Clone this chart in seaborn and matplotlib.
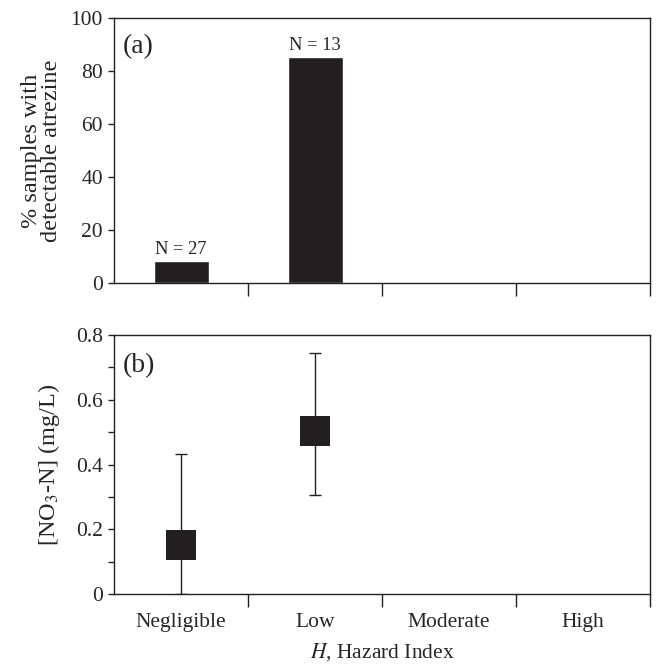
import matplotlib
matplotlib.use("Agg")
import matplotlib.pyplot as plt
import seaborn as sns
import numpy as np
import pandas as pd

# data
categories = ["Negligible", "Low", "Moderate", "High"]
pct_detect = [8.3, 85.2, np.nan, np.nan]
n_labels = ["N = 27", "N = 13", "", ""]
no3_mean = [0.152, 0.503, np.nan, np.nan]
no3_low = [0.0, 0.305, np.nan, np.nan]
no3_high = [0.432, 0.745, np.nan, np.nan]

sns.set_style("ticks")
plt.rcParams["font.family"] = ["Liberation Serif", "DejaVu Serif"]
plt.rcParams["mathtext.fontset"] = "stix"
plt.rcParams["axes.linewidth"] = 1.0
plt.rcParams["axes.edgecolor"] = "#231f20"

dark = "#231f20"
fs_tick = 15.5
fs_ylab = 17.5

fig = plt.figure(figsize=(6.56, 6.65), dpi=100)
ax1 = fig.add_axes([0.174, 0.574, 0.817, 0.399])
ax2 = fig.add_axes([0.174, 0.107, 0.817, 0.389])

df = pd.DataFrame({"cat": categories, "pct": pct_detect})
sns.barplot(data=df, x="cat", y="pct", order=categories, color=dark,
            saturation=1, width=0.41, ax=ax1)
for i, lab in enumerate(n_labels):
    if lab:
        ax1.text(i, pct_detect[i] + 1.2, lab, ha="center", va="bottom", fontsize=13.3)
ax1.set_ylim(0, 100)
ax1.set_yticks(range(0, 101, 20))
ax1.set_ylabel("% samples with\ndetectable atrezine", fontsize=fs_ylab,
               linespacing=0.95, labelpad=6)
ax1.set_xlabel("")
ax1.text(0.016, 0.94, "(a)", transform=ax1.transAxes, fontsize=20, va="top")

x = np.arange(len(categories))
mean = np.array(no3_mean)
yerr = np.vstack([mean - np.array(no3_low), np.array(no3_high) - mean])
ax2.errorbar(x, mean, yerr=yerr, fmt="none", ecolor=dark, elinewidth=1.0,
             capsize=4, capthick=1.0, zorder=2)
sns.scatterplot(x=x, y=mean, marker="s", s=440, color=dark, edgecolor=dark,
                linewidth=0, ax=ax2, zorder=3)
ax2.set_ylim(0, 0.8)
ax2.set_yticks([0, 0.2, 0.4, 0.6, 0.8])
ax2.set_yticklabels(["0", "0.2", "0.4", "0.6", "0.8"])
ax2.set_yticks([0.1, 0.3, 0.5, 0.7], minor=True)
ax2.set_ylabel(r"[NO$_3$-N] (mg/L)", fontsize=fs_ylab, labelpad=10)
ax2.set_xlabel(r"$H$, Hazard Index", fontsize=15.5, labelpad=6)
ax2.text(0.016, 0.93, "(b)", transform=ax2.transAxes, fontsize=20, va="top")

for ax in (ax1, ax2):
    ax.set_xlim(-0.5, 3.5)
    ax.set_xticks(x)
    ax.set_xticks([0.5, 1.5, 2.5, 3.5], minor=True)
    ax.tick_params(axis="x", which="major", length=0, labelsize=fs_tick, pad=14)
    ax.tick_params(axis="x", which="minor", length=9, width=1.0, direction="out", color=dark)
    ax.tick_params(axis="y", which="both", length=4, width=1.0, direction="out",
                   labelsize=fs_tick, color=dark, pad=4)
    for s in ax.spines.values():
        s.set_visible(True)
        s.set_color(dark)

ax1.set_xticklabels([])
ax2.set_xticklabels(categories)

fig.savefig("out.png", dpi=100)
